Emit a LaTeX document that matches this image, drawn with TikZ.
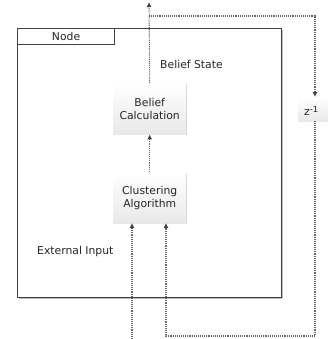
\documentclass[tikz,border=0pt]{standalone}
\usepackage{fontspec}
\setmainfont{DejaVu Sans}
\usetikzlibrary{arrows.meta,shadows}
\begin{document}
\begin{tikzpicture}[x=1pt,y=-1pt,
  txt/.style={font=\fontsize{10.8}{13}\selectfont, text=black!85},
  procbox/.style={minimum width=73pt, minimum height=51pt, inner sep=0pt,
    top color=white, bottom color=black!9, draw=none, align=center, txt,
    drop shadow={shadow xshift=1.2pt, shadow yshift=-1.2pt, fill=black!25, opacity=0.6}},
  flow/.style={draw=black!60, line width=1.1pt, dash pattern=on 1pt off 0.9pt,
    -{Latex[length=5pt,width=5pt,black!75]}},
]
\useasboundingbox (0,0) rectangle (328,339);

% enclosing node frame with its title tab
\fill[black!25] (19,30) rectangle (283,299);
\node[draw=black!75, line width=1.3pt, fill=white, minimum width=264pt,
  minimum height=269pt, inner sep=0pt, anchor=north west] (frame) at (17,28) {};
\node[draw=black!75, line width=1.1pt, fill=white, minimum width=97pt,
  minimum height=16pt, inner sep=0pt, anchor=north west, txt] (tab) at (17,28) {Node};

% processing stages
\node[procbox, minimum height=51pt, anchor=north west] (belief) at (113,83) {Belief\\Calculation};
\node[procbox, anchor=north west] (cluster) at (113,172) {Clustering\\Algorithm};

% unit delay block
\node[procbox, minimum width=40pt, minimum height=24pt, anchor=north west]
  (delay) at (298,97) {};
\node[txt, anchor=west, inner sep=0pt] (delaytxt) at (304,111)
  {z\raisebox{3.5pt}{\fontsize{8.5}{9}\selectfont-1}};

% labels
\node[txt, anchor=west, inner sep=0pt] (bslabel) at (160,64) {Belief State};
\node[txt, anchor=west, inner sep=0pt] (exlabel) at (37,252) {External Input};

% connectors
\coordinate (out) at (149,2);
\coordinate (tap) at (149,16);
\coordinate (corner) at (315,16);
\coordinate (delayin) at (315,97);
\coordinate (ext) at (132,339);
\coordinate (fbA) at (315,336);
\coordinate (fbB) at (166,336);
\coordinate (inA) at (132,223);
\coordinate (inB) at (166,223);

\draw[flow] (belief.north) -- (out);
\draw[flow] (tap) -- (corner) -- (delayin);
\draw[flow] (cluster.north) -- (belief.south);
\draw[flow] (ext) -- (inA);
\draw[flow] (delay.south -| fbA) -- (fbA) -- (fbB) -- (inB);
\end{tikzpicture}
\end{document}
